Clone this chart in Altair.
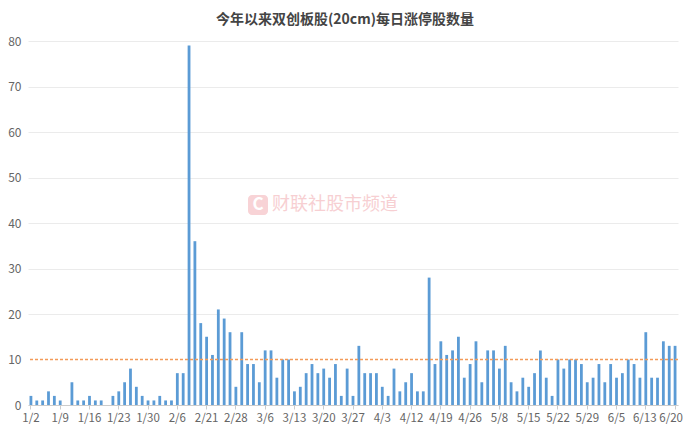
import altair as alt
import pandas as pd

FONT = "Noto Sans CJK SC"

title_text = "今年以来双创板股(20cm)每日涨停股数量"
watermark_text = "财联社股市频道"

dates = [
    "1/2", "1/3", "1/4", "1/5", "1/8", "1/9", "1/10", "1/11", "1/12", "1/15", "1/16",
    "1/17", "1/18", "1/19", "1/22", "1/23", "1/24", "1/25", "1/26", "1/29", "1/30", "1/31",
    "2/1", "2/2", "2/5", "2/6", "2/7", "2/8", "2/19", "2/20", "2/21", "2/22", "2/23",
    "2/26", "2/27", "2/28", "2/29",
    "3/1", "3/4", "3/5", "3/6", "3/7", "3/8", "3/11", "3/12", "3/13", "3/14", "3/15",
    "3/18", "3/19", "3/20", "3/21", "3/22", "3/25", "3/26", "3/27", "3/28", "3/29",
    "4/1", "4/2", "4/3", "4/8", "4/9", "4/10", "4/11", "4/12", "4/15", "4/16", "4/17",
    "4/18", "4/19", "4/22", "4/23", "4/24", "4/25", "4/26", "4/29", "4/30",
    "5/6", "5/7", "5/8", "5/9", "5/10", "5/13", "5/14", "5/15", "5/16", "5/17",
    "5/20", "5/21", "5/22", "5/23", "5/24", "5/27", "5/28", "5/29", "5/30", "5/31",
    "6/3", "6/4", "6/5", "6/6", "6/7", "6/11", "6/12", "6/13", "6/14", "6/17",
    "6/18", "6/19", "6/20",
]

counts = [
    2, 1, 1, 3, 2, 1, 0, 5, 1, 1, 2, 1, 1, 0, 2, 3, 5, 8, 4, 2, 1, 1,
    2, 1, 1, 7, 7, 79, 36, 18, 15, 11, 21, 19, 16, 4, 16, 9, 9, 5, 12, 12, 6,
    10, 10, 3, 4, 7, 9, 7, 8, 6, 9, 2, 8, 2, 13, 7, 7, 7, 4, 2, 8, 3, 5, 7,
    3, 3, 28, 9, 14, 11, 12, 15, 6, 9, 14, 5, 12, 12, 8, 13, 5, 3, 6, 4, 7, 12,
    6, 2, 10, 8, 10, 10, 9, 5, 6, 9, 5, 9, 6, 7, 10, 9, 6, 16, 6, 6, 14, 13, 13,
]

tick_labels = [
    "1/2", "1/9", "1/16", "1/23", "1/30", "2/6", "2/21", "2/28", "3/6", "3/13",
    "3/20", "3/27", "4/3", "4/12", "4/19", "4/26", "5/8", "5/15", "5/22", "5/29",
    "6/5", "6/13", "6/20",
]
y_ticks = [0, 10, 20, 30, 40, 50, 60, 70, 80]
ref_value = [10]

df = pd.DataFrame({"date": dates, "count": counts})

x_enc = alt.X(
    "date:N",
    scale=alt.Scale(domain=dates, paddingInner=0, paddingOuter=0),
    axis=alt.Axis(
        values=tick_labels, labelAngle=0, title=None, labelFontSize=11.5,
        labelColor="#666666", labelFont=FONT, tickColor="#cccccc", tickSize=4,
        domainColor="#cccccc", labelPadding=3, grid=False,
        labelOffset={
            "condition": [
                {"test": "datum.value == '6/20'", "value": -4},
                {"test": "datum.value == '6/13'", "value": -1},
            ],
            "value": 0,
        },
    ),
)
y_enc = alt.Y(
    "count:Q",
    scale=alt.Scale(domain=[0, 80], nice=False),
    axis=alt.Axis(
        values=y_ticks, title=None, ticks=False, domain=False,
        gridColor={"condition": {"test": "datum.value == 10", "value": "transparent"},
                   "value": "#ebebeb"},
        labelColor="#666666", labelFontSize=12,
        labelFont=FONT, labelPadding=7,
    ),
)

bars = alt.Chart(df).mark_bar(size=2.8, color="#5B9BD5").encode(x=x_enc, y=y_enc)

rule = alt.Chart(pd.DataFrame({"v": ref_value})).mark_rule(
    color="#F39A58", strokeDash=[3, 2], strokeWidth=1.4
).encode(y=alt.Y("v:Q"))

wm_df = pd.DataFrame({"t": [watermark_text], "c": ["C"]})
logo = alt.Chart(wm_df).mark_rect(color="#f8d3d6", cornerRadius=4).encode(
    x=alt.value(220), x2=alt.value(240), y=alt.value(154), y2=alt.value(174)
)
logo_c = alt.Chart(wm_df).mark_text(
    font=FONT, fontSize=17, fontWeight="bold", color="white",
    align="center", baseline="middle",
).encode(text="c:N", x=alt.value(230), y=alt.value(164))
wm = alt.Chart(wm_df).mark_text(
    font=FONT, fontSize=18, color="#f7cfd2", align="left", baseline="middle"
).encode(text="t:N", x=alt.value(244), y=alt.value(164))

chart = alt.layer(logo, logo_c, wm, bars, rule).properties(
    width=650,
    height=364,
    title=alt.TitleParams(
        title_text, fontSize=14, fontWeight="bold", color="#444444",
        font=FONT, anchor="middle", offset=8, dx=-8,
    ),
    autosize=alt.AutoSizeParams(type="none"),
    padding={"left": 20, "top": 33, "right": 6, "bottom": 22},
).configure_view(stroke=None)

chart.save("out.html", embed_options={"renderer": "svg", "actions": False})
